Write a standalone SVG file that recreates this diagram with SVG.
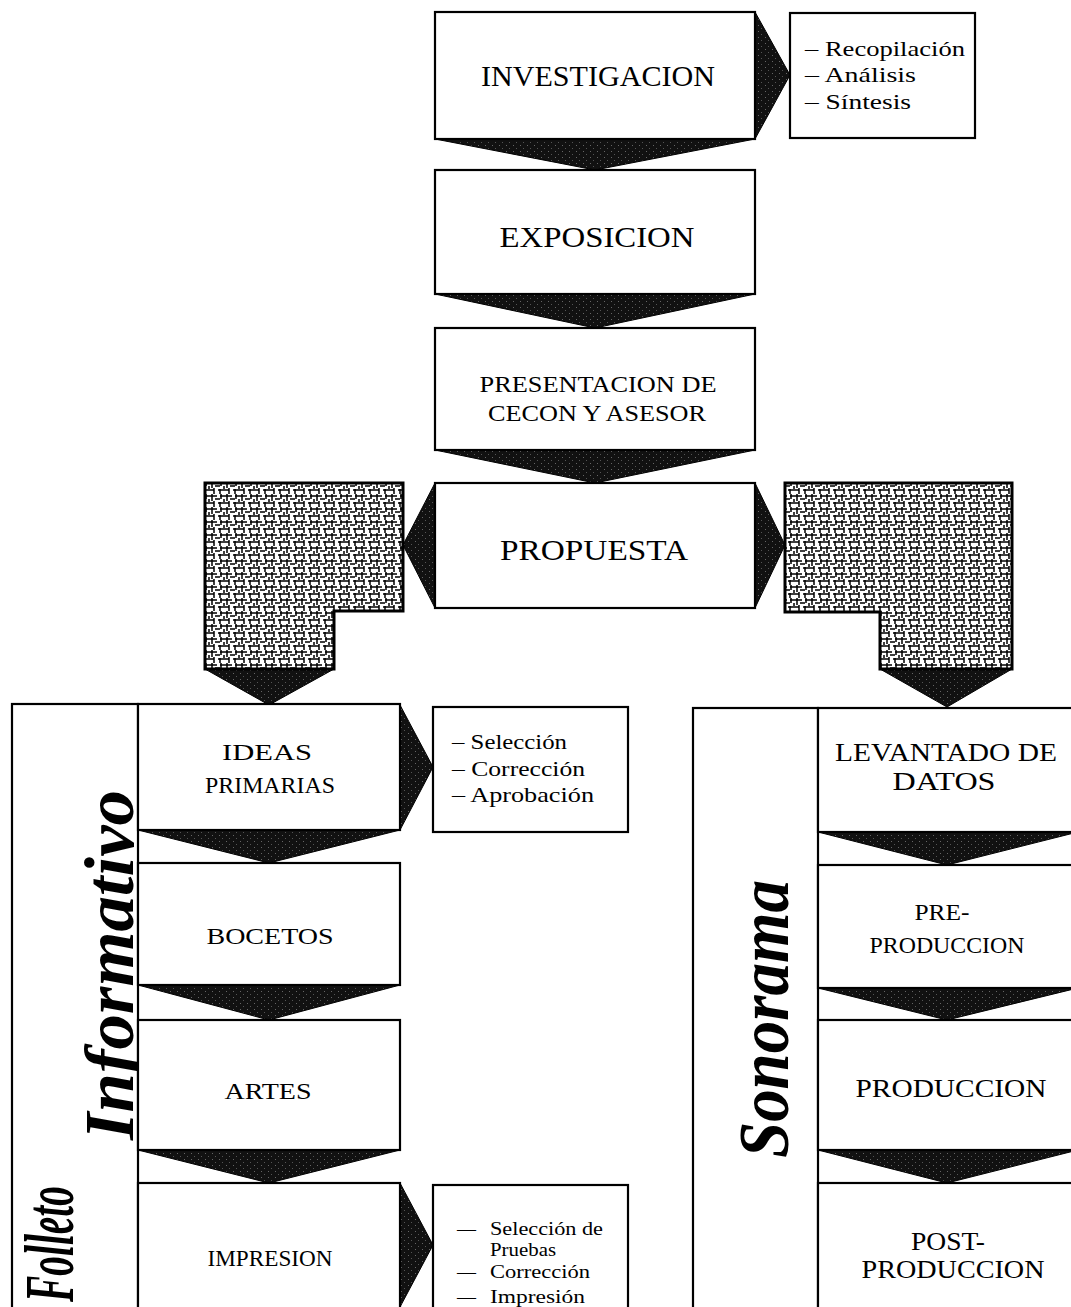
<svg xmlns="http://www.w3.org/2000/svg" width="1071" height="1307" viewBox="0 0 1071 1307">
<style>
.box{fill:#fff;stroke:#000;stroke-width:2.2}
.t{font-family:"Liberation Serif","DejaVu Serif",serif;fill:#000;text-anchor:middle}
.s{font-family:"Liberation Serif","DejaVu Serif",serif;fill:#000}
.lbl{font-family:"Liberation Serif","DejaVu Serif",serif;font-weight:bold;font-style:italic;fill:#000}
.arr{fill:url(#stip);stroke:#000;stroke-width:1}
.tex{fill:url(#weave);stroke:#000;stroke-width:3}
</style>
<defs>
<pattern id="stip" width="7" height="6" patternUnits="userSpaceOnUse">
<rect width="7" height="6" fill="#111"/>
<rect x="2" y="1" width="1" height="1" fill="#666"/>
<rect x="5" y="4" width="1" height="1" fill="#555"/>
</pattern>
<pattern id="weave" width="15" height="13" patternUnits="userSpaceOnUse">
<rect width="15" height="13" fill="#fff"/>
<path d="M0 2h7M10 2h5M2 0v7M11 0v5M5 5h5M0 9h4M8 9h7M4 7v6M10 8v5M14 5v3" stroke="#000" stroke-width="1.5"/>
</pattern>
</defs>

<g id="connectors">
<polygon class="arr" points="435,139 755,139 595,170"/>
<polygon class="arr" points="755,12 790,75 755,139"/>
<polygon class="arr" points="435,294 755,294 595,328"/>
<polygon class="arr" points="435,450 755,450 595,483"/>
<polygon class="arr" points="435,483 403,545 435,608"/>
<polygon class="arr" points="755,483 785,545 755,608"/>
<polygon class="arr" points="205,669 334,669 269,705"/>
<polygon class="arr" points="880,669 1012,669 947,707"/>
<polygon class="arr" points="138,830 400,830 269,863"/>
<polygon class="arr" points="400,705 433,767 400,830"/>
<polygon class="arr" points="138,985 400,985 269,1020"/>
<polygon class="arr" points="138,1150 400,1150 269,1183"/>
<polygon class="arr" points="400,1183 433,1245 400,1307"/>
<polygon class="arr" points="818,832 1078,832 947,865"/>
<polygon class="arr" points="818,988 1078,988 947,1020"/>
<polygon class="arr" points="818,1150 1078,1150 947,1183"/>
</g>

<g id="investigacion">
<rect class="box" x="435" y="12" width="320" height="127"/>
<text class="t" x="598" y="86" font-size="29" textLength="234" lengthAdjust="spacingAndGlyphs">INVESTIGACION</text>
</g>
<g id="investigacion-notas">
<rect class="box" x="790" y="13" width="185" height="125"/>
<text class="s" x="805" y="56" font-size="22" textLength="160" lengthAdjust="spacingAndGlyphs">– Recopilación</text>
<text class="s" x="805" y="82" font-size="22" textLength="111" lengthAdjust="spacingAndGlyphs">– Análisis</text>
<text class="s" x="805" y="109" font-size="22" textLength="106" lengthAdjust="spacingAndGlyphs">– Síntesis</text>
</g>
<g id="exposicion">
<rect class="box" x="435" y="170" width="320" height="124"/>
<text class="t" x="597" y="247" font-size="30" textLength="195" lengthAdjust="spacingAndGlyphs">EXPOSICION</text>
</g>
<g id="presentacion">
<rect class="box" x="435" y="328" width="320" height="122"/>
<text class="t" x="598" y="392" font-size="23" textLength="237" lengthAdjust="spacingAndGlyphs">PRESENTACION DE</text>
<text class="t" x="597" y="421" font-size="23" textLength="218" lengthAdjust="spacingAndGlyphs">CECON Y ASESOR</text>
</g>
<g id="propuesta">
<rect class="box" x="435" y="483" width="320" height="125"/>
<text class="t" x="594" y="560" font-size="30" textLength="188" lengthAdjust="spacingAndGlyphs">PROPUESTA</text>
</g>
<g id="rama-folleto">
<polygon class="tex" points="205,483 403,483 403,611 334,611 334,669 205,669"/>
</g>
<g id="rama-sonorama">
<polygon class="tex" points="785,483 1012,483 1012,669 880,669 880,612 785,612"/>
</g>

<g id="folleto">
<rect class="box" x="12" y="704" width="126" height="610"/>
<text class="lbl" transform="translate(73,1302) rotate(-90)" font-size="70" textLength="116" lengthAdjust="spacingAndGlyphs">Folleto</text>
<text class="lbl" transform="translate(133,1140) rotate(-90)" font-size="70" textLength="350" lengthAdjust="spacingAndGlyphs">Informativo</text>
</g>
<g id="ideas">
<rect class="box" x="138" y="704" width="262" height="126"/>
<text class="t" x="267" y="760" font-size="24" textLength="90" lengthAdjust="spacingAndGlyphs">IDEAS</text>
<text class="t" x="270" y="793" font-size="24" textLength="130" lengthAdjust="spacingAndGlyphs">PRIMARIAS</text>
</g>
<g id="ideas-notas">
<rect class="box" x="433" y="707" width="195" height="125"/>
<text class="s" x="452" y="749" font-size="21" textLength="115" lengthAdjust="spacingAndGlyphs">– Selección</text>
<text class="s" x="452" y="776" font-size="21" textLength="133" lengthAdjust="spacingAndGlyphs">– Corrección</text>
<text class="s" x="452" y="802" font-size="21" textLength="142" lengthAdjust="spacingAndGlyphs">– Aprobación</text>
</g>
<g id="bocetos">
<rect class="box" x="138" y="863" width="262" height="122"/>
<text class="t" x="270" y="944" font-size="24" textLength="127" lengthAdjust="spacingAndGlyphs">BOCETOS</text>
</g>
<g id="artes">
<rect class="box" x="138" y="1020" width="262" height="130"/>
<text class="t" x="268" y="1099" font-size="24" textLength="87" lengthAdjust="spacingAndGlyphs">ARTES</text>
</g>
<g id="impresion">
<rect class="box" x="138" y="1183" width="262" height="130"/>
<text class="t" x="270" y="1266" font-size="24" textLength="125" lengthAdjust="spacingAndGlyphs">IMPRESION</text>
</g>
<g id="impresion-notas">
<rect class="box" x="433" y="1185" width="195" height="130"/>
<text class="s" x="457" y="1235" font-size="19">—</text>
<text class="s" x="490" y="1235" font-size="19" textLength="113" lengthAdjust="spacingAndGlyphs">Selección de</text>
<text class="s" x="490" y="1256" font-size="19" textLength="66" lengthAdjust="spacingAndGlyphs">Pruebas</text>
<text class="s" x="457" y="1278" font-size="19">—</text>
<text class="s" x="490" y="1278" font-size="19" textLength="100" lengthAdjust="spacingAndGlyphs">Corrección</text>
<text class="s" x="457" y="1303" font-size="19">—</text>
<text class="s" x="490" y="1303" font-size="19" textLength="95" lengthAdjust="spacingAndGlyphs">Impresión</text>
</g>

<g id="sonorama">
<rect class="box" x="693" y="708" width="125" height="606"/>
<text class="lbl" transform="translate(788,1158) rotate(-90)" font-size="72" textLength="278" lengthAdjust="spacingAndGlyphs">Sonorama</text>
</g>
<g id="levantado">
<rect class="box" x="818" y="708" width="260" height="124"/>
<text class="t" x="946" y="761" font-size="25" textLength="222" lengthAdjust="spacingAndGlyphs">LEVANTADO DE</text>
<text class="t" x="944" y="790" font-size="25" textLength="103" lengthAdjust="spacingAndGlyphs">DATOS</text>
</g>
<g id="preproduccion">
<rect class="box" x="818" y="865" width="260" height="123"/>
<text class="t" x="942" y="920" font-size="24" textLength="55" lengthAdjust="spacingAndGlyphs">PRE-</text>
<text class="t" x="947" y="953" font-size="24" textLength="155" lengthAdjust="spacingAndGlyphs">PRODUCCION</text>
</g>
<g id="produccion">
<rect class="box" x="818" y="1020" width="260" height="130"/>
<text class="t" x="951" y="1097" font-size="25" textLength="191" lengthAdjust="spacingAndGlyphs">PRODUCCION</text>
</g>
<g id="postproduccion">
<rect class="box" x="818" y="1183" width="260" height="130"/>
<text class="t" x="948" y="1250" font-size="25" textLength="74" lengthAdjust="spacingAndGlyphs">POST-</text>
<text class="t" x="953" y="1278" font-size="25" textLength="183" lengthAdjust="spacingAndGlyphs">PRODUCCION</text>
</g>
</svg>
